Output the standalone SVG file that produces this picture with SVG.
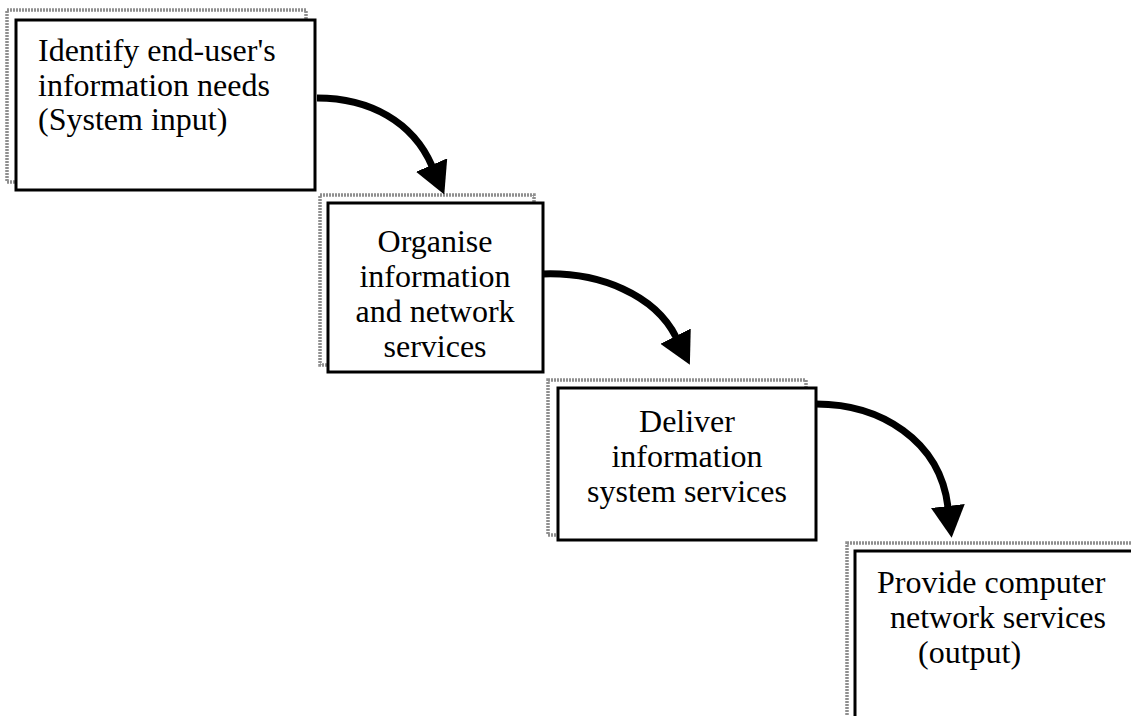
<svg xmlns="http://www.w3.org/2000/svg" width="1131" height="716" viewBox="0 0 1131 716">
  <style>
    .shadow { fill: none; stroke: #8f8f8f; stroke-width: 3.5; stroke-dasharray: 2 1; }
    .frame { fill: #ffffff; stroke: #000000; stroke-width: 3; }
    .label { font-family: "Liberation Serif", "Times New Roman", serif; font-size: 32px; fill: #000000; }
    .mid { text-anchor: middle; }
    .flow { fill: none; stroke: #000000; stroke-width: 7; }
  </style>
  <defs>
    <marker id="head" markerUnits="userSpaceOnUse" viewBox="0 0 32 34" refX="1" refY="17" markerWidth="32" markerHeight="34" orient="auto">
      <path d="M0,0 L32,17 L0,34 z" fill="#000000"/>
    </marker>
  </defs>
  <rect width="1131" height="716" fill="#ffffff"/>

  <!-- step 1 -->
  <g id="node-identify">
    <rect class="shadow" x="7" y="10" width="299" height="172"/>
    <rect class="frame" x="16" y="20" width="299" height="170"/>
    <text class="label" x="38" y="61">Identify end-user's</text>
    <text class="label" x="38" y="96">information needs</text>
    <text class="label" x="38" y="130">(System input)</text>
  </g>

  <!-- step 2 -->
  <g id="node-organise">
    <rect class="shadow" x="320" y="195" width="214" height="170"/>
    <rect class="frame" x="328" y="203" width="215" height="169"/>
    <text class="label mid" x="435" y="252">Organise</text>
    <text class="label mid" x="435" y="287">information</text>
    <text class="label mid" x="435" y="322">and network</text>
    <text class="label mid" x="435" y="357">services</text>
  </g>

  <!-- step 3 -->
  <g id="node-deliver">
    <rect class="shadow" x="548" y="380" width="258" height="155"/>
    <rect class="frame" x="558" y="388" width="258" height="152"/>
    <text class="label mid" x="687" y="432">Deliver</text>
    <text class="label mid" x="687" y="467">information</text>
    <text class="label mid" x="687" y="502">system services</text>
  </g>

  <!-- step 4 (runs past the page edge) -->
  <g id="node-provide">
    <rect class="shadow" x="847" y="543" width="300" height="200"/>
    <rect class="frame" x="855" y="551" width="300" height="200"/>
    <text class="label" x="877" y="593">Provide computer</text>
    <text class="label" x="890" y="628">network services</text>
    <text class="label" x="918" y="663">(output)</text>
  </g>

  <!-- curved flow arrows between steps -->
  <g id="connectors">
    <path class="flow" d="M317,98 C370,98 413,122 432,166" marker-end="url(#head)"/>
    <path class="flow" d="M543,274 C600,272 655,295 676,337" marker-end="url(#head)"/>
    <path class="flow" d="M816,404 C880,404 940,440 948,507" marker-end="url(#head)"/>
  </g>
</svg>
